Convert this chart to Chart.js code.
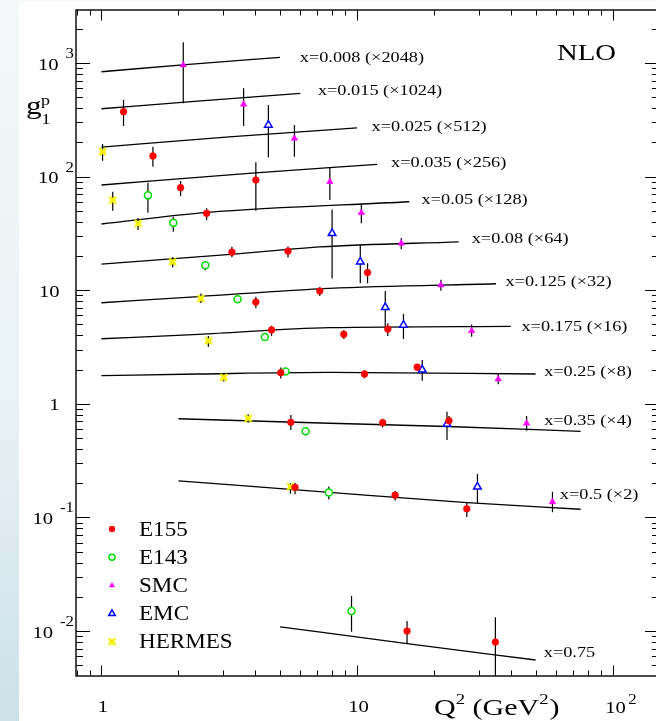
<!DOCTYPE html>
<html>
<head>
<meta charset="utf-8">
<script src="https://cdn.jsdelivr.net/npm/chart.js@4.4.0/dist/chart.umd.min.js"></script>
<style>
html, body { margin: 0; padding: 0; width: 656px; height: 721px; overflow: hidden; }
body { background: linear-gradient(to bottom, #f4f8f9 0%, #e9f2f5 55%, #cde1e9 100%); }
#wrap { position: absolute; left: 0; top: 0; width: 670px; height: 721px; }
</style>
</head>
<body>
<div id="wrap"><canvas id="g1p" width="670" height="721"></canvas></div>
<script>
// NLO curves, one per x bin (already scaled by the factor in the label)
const curveNames = ['x=0.008 (\u00d72048)', 'x=0.015 (\u00d71024)', 'x=0.025 (\u00d7512)', 'x=0.035 (\u00d7256)',
  'x=0.05 (\u00d7128)', 'x=0.08 (\u00d764)', 'x=0.125 (\u00d732)', 'x=0.175 (\u00d716)',
  'x=0.25 (\u00d78)', 'x=0.35 (\u00d74)', 'x=0.5 (\u00d72)', 'x=0.75'];
const curveQ2 = [
  [1, 2.2, 5], [1, 2.45, 6], [1, 3.16, 10], [1, 4, 12], [1, 2.6, 16], [1, 3.2, 7.2, 25],
  [1, 2.4, 7.8, 35], [1, 2.4, 7.8, 40], [1, 2.4, 7.8, 50], [2, 7.8, 22.5, 75], [2, 7.8, 27, 75], [5, 15.7, 50]
];
const curveG = [
  [838, 975, 1122], [396, 465, 541], [182, 224, 269], [84.4, 108, 128], [38.3, 48.5, 60.1],
  [17.0, 20.7, 24.1, 26.7], [7.76, 8.8, 10.4, 11.4], [3.74, 4.09, 4.68, 4.81], [1.77, 1.83, 1.89, 1.83],
  [0.739, 0.675, 0.632, 0.573], [0.210, 0.166, 0.135, 0.118], [0.0109, 0.00775, 0.00556]
];

// data points: Q2, g1p, error bar low / high
const e155Q2 = [1.22, 1.59, 4.02, 2.04, 2.58, 3.24, 5.37, 11.0, 4.02, 7.15, 4.63, 8.88, 13.2, 5.03, 10.7, 17.2, 5.51, 12.6, 22.9, 5.72, 14.1, 26.9, 15.7, 34.8];
const e155G = [373, 152, 93.3, 79.9, 47.5, 21.6, 22.1, 14.3, 7.87, 9.84, 4.47, 4.09, 4.55, 1.88, 1.83, 2.10, 0.688, 0.682, 0.710, 0.184, 0.157, 0.119, 0.0100, 0.0080];
const e155Lo = [279, 122, 50.1, 67.5, 41.5, 19.5, 19.4, 11.5, 6.93, 8.89, 3.95, 3.72, 3.95, 1.67, 1.68, 1.97, 0.588, 0.62, 0.64, 0.16, 0.141, 0.101, 0.00768, 0.002];
const e155Hi = [472, 183, 134, 91.5, 52.6, 24.2, 24.3, 17.3, 8.77, 10.7, 4.88, 4.47, 5.12, 2.09, 1.97, 2.24, 0.796, 0.74, 0.78, 0.202, 0.171, 0.135, 0.01224, 0.0132];

const e143Q2 = [1.52, 1.91, 2.55, 3.41, 4.36, 5.25, 6.29, 7.76, 9.52];
const e143G = [68.4, 39.3, 16.6, 8.32, 3.87, 1.93, 0.573, 0.166, 0.0150];
const e143Lo = [48.1, 32.7, 15.0, 7.8, 3.6, 1.85, 0.53, 0.144, 0.00986];
const e143Hi = [88.4, 44.4, 18.0, 8.8, 4.1, 2.02, 0.62, 0.187, 0.0203];

const smcQ2 = [2.09, 3.60, 5.69, 7.83, 10.4, 14.9, 21.3, 28.1, 35.7, 46.1, 58.2];
const smcG = [960, 433, 217, 90.2, 48.1, 25.9, 11.1, 4.40, 1.65, 0.673, 0.137];
const smcLo = [442, 279, 150, 62.2, 38.8, 23.0, 9.9, 3.9, 1.49, 0.58, 0.111];
const smcHi = [1521, 599, 285, 121, 58.2, 28.9, 12.4, 5.0, 1.83, 0.78, 0.168];

const emcQ2 = [4.50, 7.99, 10.3, 12.9, 15.2, 18.0, 22.5, 29.6];
const emcG = [285, 31.7, 17.8, 7.07, 4.94, 1.99, 0.664, 0.186];
const emcLo = [148, 12.7, 11.5, 4.62, 3.72, 1.60, 0.480, 0.133];
const emcHi = [427, 51.5, 25.0, 9.84, 6.17, 2.43, 0.852, 0.241];

const hermesQ2 = [1.01, 1.107, 1.39, 1.90, 2.45, 2.62, 3.01, 3.75, 5.49];
const hermesG = [166, 62.2, 38.8, 17.8, 8.49, 3.59, 1.71, 0.745, 0.186];
const hermesLo = [138, 50.1, 33.9, 15.9, 7.74, 3.18, 1.57, 0.68, 0.162];
const hermesHi = [194, 73.7, 43.3, 19.5, 9.36, 3.95, 1.86, 0.81, 0.20];

const seriesNames = ['E155', 'E143', 'SMC', 'EMC', 'HERMES'];

// tick labels
const yTickVals = [0.01, 0.1, 1, 10, 100, 1000];
const yTickBase = ['10', '10', '1', '10', '10', '10'];
const yTickExp = ['-2', '-1', '', '', '2', '3'];
const xTickVals = [1, 10, 100];
const xTickBase = ['1', '10', '10'];
const xTickExp = ['', '', '2'];

// where the curve labels sit (Q2, g at the text's vertical middle)
const labelQ2 = [5.97, 7.03, 11.4, 13.6, 17.9, 28.1, 38.1, 44.0, 54.0, 54.0, 62.2, 53.8];
const labelG = [1130, 578, 281, 134.6, 63.5, 28.6, 12.05, 4.87, 1.96, 0.720, 0.160, 0.00658];

// yellow HERMES marker
function hermesMark(r) {
  const s = Math.ceil(r * 2 + 2);
  const cv = document.createElement('canvas');
  cv.width = s; cv.height = s;
  const c = cv.getContext('2d');
  const m = s / 2;
  c.fillStyle = '#f2f200';
  c.strokeStyle = '#f2f200';
  c.fillRect(m - r * 0.75, m - r * 0.75, r * 1.5, r * 1.5);
  c.lineWidth = 2.2;
  c.beginPath();
  c.moveTo(m - r, m - r); c.lineTo(m + r, m + r);
  c.moveTo(m + r, m - r); c.lineTo(m - r, m + r);
  c.stroke();
  return cv;
}

const styles = [
  { pointStyle: 'circle', radius: 3.4, fill: '#ff0000', stroke: '#ff0000', bw: 0.5 },
  { pointStyle: 'circle', radius: 3.5, fill: '#ffffff', stroke: '#00dd00', bw: 1.5 },
  { pointStyle: 'triangle', radius: 3.8, fill: '#ff00ff', stroke: '#ff00ff', bw: 0.5 },
  { pointStyle: 'triangle', radius: 4.4, fill: '#ffffff', stroke: '#0000ff', bw: 1.5 },
  { pointStyle: hermesMark(3.4), radius: 3.4, fill: '#f2f200', stroke: '#f2f200', bw: 0 }
];

const allQ2 = [e155Q2, e143Q2, smcQ2, emcQ2, hermesQ2];
const allG = [e155G, e143G, smcG, emcG, hermesG];
const allLo = [e155Lo, e143Lo, smcLo, emcLo, hermesLo];
const allHi = [e155Hi, e143Hi, smcHi, emcHi, hermesHi];

const datasets = [];
seriesNames.forEach((name, k) => {
  const st = styles[k];
  datasets.push({
    label: name,
    data: allQ2[k].map((q, i) => ({ x: q, y: allG[k][i] })),
    pointStyle: st.pointStyle,
    pointRadius: st.radius,
    backgroundColor: st.fill,
    borderColor: st.stroke,
    pointBorderWidth: st.bw,
    showLine: false,
    order: 1
  });
});
curveNames.forEach((name, k) => {
  datasets.push({
    label: name,
    data: curveQ2[k].map((q, i) => ({ x: q, y: curveG[k][i] })),
    showLine: true,
    pointRadius: 0,
    borderColor: '#000',
    borderWidth: 1.3,
    cubicInterpolationMode: 'monotone',
    order: 2
  });
});

// text drawn a bit wider, like the original figure
function txt(ctx, s, x, y, size, sx, align) {
  ctx.save();
  ctx.font = size + 'px "Liberation Serif", "Times New Roman", serif';
  const w = ctx.measureText(s).width * sx;
  const x0 = align === 'right' ? x - w : (align === 'center' ? x - w / 2 : x);
  ctx.translate(x0, y);
  ctx.scale(sx, 1);
  ctx.textAlign = 'left';
  ctx.textBaseline = 'alphabetic';
  ctx.fillStyle = '#000';
  ctx.fillText(s, 0, 0);
  ctx.restore();
  return w;
}

const decor = {
  id: 'decor',
  beforeDraw(chart) {
    const c = chart.ctx;
    c.save();
    c.fillStyle = '#ffffff';
    c.fillRect(19, 2, chart.width - 19, chart.height - 2);
    c.restore();
  },
  beforeDatasetsDraw(chart) {
    // error bars
    const { ctx, chartArea: a, scales: { x, y } } = chart;
    ctx.save();
    ctx.beginPath();
    ctx.rect(a.left, a.top, a.right - a.left, a.bottom - a.top);
    ctx.clip();
    ctx.strokeStyle = '#000';
    ctx.lineWidth = 1.2;
    ctx.beginPath();
    allQ2.forEach((qs, k) => {
      qs.forEach((q, i) => {
        const px = x.getPixelForValue(q);
        ctx.moveTo(px, y.getPixelForValue(allLo[k][i]));
        ctx.lineTo(px, y.getPixelForValue(allHi[k][i]));
      });
    });
    ctx.stroke();
    ctx.restore();
  },
  afterDraw(chart) {
    const { ctx, chartArea: a, scales: { x, y } } = chart;
    ctx.save();
    // frame
    ctx.strokeStyle = '#000';
    ctx.lineWidth = 1.4;
    ctx.strokeRect(a.left, a.top, a.right - a.left, a.bottom - a.top);

    // inward ticks
    ctx.lineWidth = 1;
    ctx.beginPath();
    for (let e = -3; e <= 3; e++) {
      for (let m = 1; m < 10; m++) {
        const v = m * Math.pow(10, e);
        if (v > y.min && v < y.max) {
          const py = Math.round(y.getPixelForValue(v)) + 0.5;
          const len = m === 1 ? 14 : 7;
          ctx.moveTo(a.left, py); ctx.lineTo(a.left + len, py);
          ctx.moveTo(a.right, py); ctx.lineTo(a.right - len, py);
        }
        if (v > x.min && v < x.max) {
          const px = Math.round(x.getPixelForValue(v)) + 0.5;
          const len = m === 1 ? 10.5 : 5.5;
          ctx.moveTo(px, a.bottom); ctx.lineTo(px, a.bottom - len);
          ctx.moveTo(px, a.top); ctx.lineTo(px, a.top + len);
        }
      }
    }
    ctx.stroke();

    // y tick labels
    yTickVals.forEach((v, i) => {
      const py = y.getPixelForValue(v);
      if (yTickExp[i]) {
        const ew = txt(ctx, yTickExp[i], 74, py - 5, 14, 1.2, 'right');
        txt(ctx, yTickBase[i], 74 - ew - 7, py + 6.5, 16.5, 1.25, 'right');
      } else {
        txt(ctx, yTickBase[i], 59.5, py + 6.5, 16.5, 1.25, 'right');
      }
    });
    // x tick labels
    xTickVals.forEach((v, i) => {
      const px = x.getPixelForValue(v);
      if (xTickExp[i]) {
        const bw = txt(ctx, xTickBase[i], px + 3, 712.5, 16.5, 1.25, 'center');
        txt(ctx, xTickExp[i], px + 3 + bw / 2 + 2.5, 704, 14, 1.2, 'left');
      } else {
        txt(ctx, xTickBase[i], px + 1.5, 712, 16.5, 1.25, 'center');
      }
    });

    // axis titles
    let tx = 434;
    tx += txt(ctx, 'Q', tx, 715, 24, 1.25, 'left');
    tx += txt(ctx, '2', tx, 704, 15, 1.25, 'left');
    tx += txt(ctx, ' (GeV', tx, 715, 24, 1.25, 'left');
    tx += txt(ctx, '2', tx, 704, 15, 1.25, 'left');
    txt(ctx, ')', tx + 1, 715, 24, 1.25, 'left');

    txt(ctx, 'g', 26, 114, 25, 1.25, 'left');
    txt(ctx, 'p', 41, 104.5, 15, 1.2, 'left');
    txt(ctx, '1', 41.5, 124, 15, 1.2, 'left');

    txt(ctx, 'NLO', 557, 60, 23, 1.25, 'left');

    // curve labels
    curveNames.forEach((name, k) => {
      const px = x.getPixelForValue(labelQ2[k]);
      const py = y.getPixelForValue(labelG[k]);
      txt(ctx, name, px, py + 5, 15, 1.22, 'left');
    });

    // legend
    seriesNames.forEach((name, k) => {
      const cy = 529 + k * 28.2;
      const st = styles[k];
      ctx.save();
      ctx.fillStyle = st.fill;
      ctx.strokeStyle = st.stroke;
      ctx.lineWidth = st.bw;
      const r = k === 3 ? 3.8 : (k === 4 ? 3.4 : 3);
      Chart.helpers.drawPoint(ctx, { pointStyle: st.pointStyle, radius: r, rotation: 0, borderWidth: st.bw }, 112, cy);
      ctx.restore();
      txt(ctx, name, 139, cy + 6.5, 21, 1.1, 'left');
    });
    ctx.restore();
  }
};

new Chart(document.getElementById('g1p'), {
  type: 'scatter',
  data: { datasets: datasets },
  options: {
    responsive: false,
    animation: false,
    devicePixelRatio: 1,
    layout: { padding: { left: 76, right: 11, top: 10, bottom: 45 } },
    scales: {
      x: { type: 'logarithmic', min: 0.795, max: 152, bounds: 'data', display: false },
      y: { type: 'logarithmic', min: 0.00402, max: 2930, bounds: 'data', display: false }
    },
    plugins: { legend: { display: false }, tooltip: { enabled: false } }
  },
  plugins: [decor]
});
</script>
</body>
</html>
